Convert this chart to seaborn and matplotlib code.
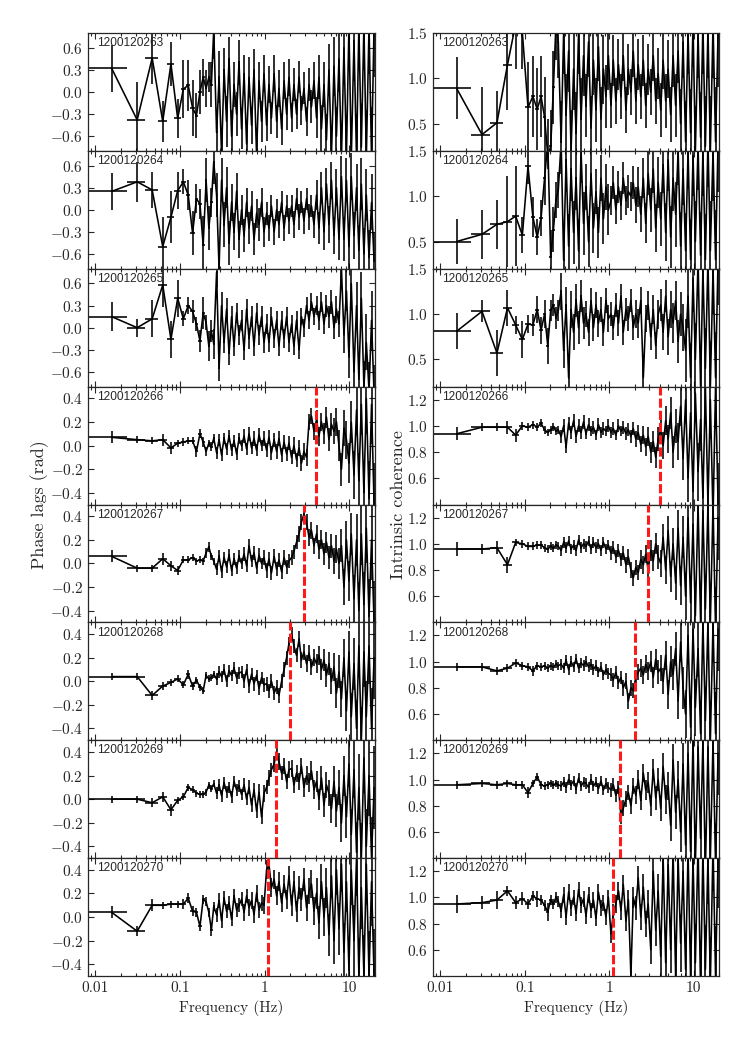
import numpy as np
import matplotlib
matplotlib.use("Agg")
import matplotlib.pyplot as plt
import matplotlib.ticker as mticker
import seaborn as sns

# frequency grid (Hz): first 16 linear bins, then a thinned log grid
freq = [0.0156, 0.0312, 0.0469, 0.0625, 0.0781, 0.0938, 0.1094, 0.125,
        0.1406, 0.1562, 0.1719, 0.1875, 0.2031, 0.2188, 0.2344, 0.25,
        0.27, 0.289, 0.309, 0.331, 0.354, 0.379, 0.406, 0.434, 0.465, 0.497,
        0.532, 0.57, 0.61, 0.652, 0.698, 0.747, 0.8, 0.856, 0.916, 0.98,
        1.05, 1.12, 1.2, 1.29, 1.38, 1.47, 1.58, 1.69, 1.81, 1.93,
        2.07, 2.21, 2.37, 2.54, 2.71, 2.9, 3.11, 3.33, 3.56, 3.81,
        4.08, 4.36, 4.67, 5.0, 5.35, 5.72, 6.13, 6.56, 7.02, 7.51,
        8.04, 8.6, 9.21, 9.85, 10.5, 11.3, 12.1, 12.9, 13.8, 14.8,
        15.8, 17.0, 18.2, 19.5]
half_bin = 0.0078

obs_ids = ['1200120263', '1200120264', '1200120265', '1200120266',
           '1200120267', '1200120268', '1200120269', '1200120270']
qpo_freq = [None, None, None, 4.0, 2.9, 2.0, 1.36, 1.1]

# phase lags, in units of 0.01 rad
lag_263 = [32, -38, 46, -40, 38, -36, 4, 9, -22, -32, 0, 20, 5, 20, 10, 85,
           -55, 20, -85, 30, -40, 45, -60, 10, -30, 40,
           -50, 25, -70, 20, -45, 30, -85, 15, -40, 25,
           -45, 10, -35, 25, -40, 5, -50, 15, -30, 20,
           -35, 10, -30, 20, -25, 5, -40, 10, -20, 15,
           -35, 20, -50, 10, -65, 30, -85, 35, -60, 45,
           -90, 60, -85, 90, -90, 70, -90, 90, -75, 90,
           -90, 90, -90, 90]
lag_263_err = [32, 52, 35, 28, 30, 26, 40, 35, 38, 30, 30, 25, 25, 20, 30, 40,
               30, 35, 35, 30, 35, 30, 35, 30, 30, 30,
               28, 25, 30, 28, 25, 28, 30, 25, 28, 25,
               22, 25, 22, 25, 22, 25, 22, 25, 22, 25,
               20, 22, 20, 22, 20, 22, 20, 22, 22, 25,
               28, 30, 32, 30, 35, 35, 38, 40, 40, 45,
               45, 50, 50, 55, 55, 55, 60, 60, 60, 60,
               65, 65, 70, 70]
lag_264 = [25, 38, 27, -50, -10, 26, 38, 20, -32, 15, 8, -48, 40, -25, 10, 65,
           20, -80, 40, -20, 30, -45, 10, -30, 25, -40,
           0, -35, 10, -25, 5, -40, -5, -20, 10, -30,
           -5, -25, 5, -30, 0, -20, 10, -25, 5, -15,
           5, -20, 15, -10, 10, -15, 15, -10, 5, -20,
           20, -25, 30, -30, 35, -20, 40, -35, 30, -40,
           45, -40, 40, -50, 45, -35, 30, -55, 35, -60,
           20, -65, 10, -70]
lag_264_err = [25, 27, 25, 40, 35, 25, 17, 20, 30, 20, 20, 40, 30, 30, 20, 30,
               30, 35, 30, 30, 28, 30, 25, 25, 25, 25,
               20, 22, 20, 22, 20, 22, 20, 22, 20, 20,
               15, 18, 15, 18, 15, 18, 15, 18, 15, 18,
               15, 18, 15, 18, 15, 18, 15, 18, 15, 18,
               20, 22, 22, 25, 22, 25, 25, 25, 25, 28,
               28, 30, 30, 30, 32, 32, 32, 35, 35, 35,
               35, 38, 38, 40]
lag_265 = [15, 0, 12, 58, -16, 40, 12, 30, 22, 5, -18, 20, 7, -25, -5, -22,
           75, -55, 30, -20, 25, -35, 15, -25, 20, -10,
           10, -30, 25, -15, 15, -25, 20, -10, 15, -20,
           5, -20, 15, -15, 10, -25, 10, -15, 15, -20,
           5, -25, 10, -30, 15, 0, 30, 10, 35, 15,
           30, 10, 35, 5, 30, 15, 35, 0, 25, 5,
           80, -10, 50, -40, 60, -60, 30, -70, 40, -80,
           -20, -85, 10, -90]
lag_265_err = [20, 12, 25, 30, 25, 25, 10, 12, 15, 10, 15, 22, 10, 20, 15, 20,
               20, 18, 18, 15, 15, 15, 15, 14, 14, 14,
               14, 14, 14, 14, 14, 14, 14, 14, 14, 14,
               13, 13, 13, 13, 13, 13, 13, 13, 13, 13,
               12, 12, 12, 12, 12, 12, 12, 12, 12, 12,
               13, 13, 14, 14, 15, 15, 16, 16, 18, 18,
               25, 25, 28, 28, 30, 30, 32, 32, 35, 35,
               38, 38, 40, 40]
lag_266 = [7, 5, 4, 5, -2, 2, 3, 4, 4, -5, 10, 3, -5, 2, -1, 6,
           -6, 5, -8, 6, -3, 8, -4, 4, -7, 6,
           0, 8, -3, 10, -2, 6, -4, 9, 0, 6,
           -4, 7, -6, 5, -5, 6, -8, 3, -7, 2,
           -10, 0, -12, -2, -15, -5, -10, 20, 25, 12,
           22, 8, 20, 10, 24, 5, 18, 12, 20, 0,
           -20, 15, 5, -15, 20, -25, 30, -30, 35, -40,
           40, -45, 35, -50]
lag_266_err = [5, 3, 3, 5, 5, 3, 3, 3, 3, 5, 4, 4, 4, 3, 4, 4,
               5, 5, 5, 5, 5, 5, 5, 5, 5, 5,
               5, 6, 5, 6, 5, 6, 5, 6, 5, 6,
               6, 6, 6, 6, 6, 6, 6, 6, 6, 6,
               6, 7, 6, 7, 7, 7, 7, 7, 7, 7,
               8, 8, 8, 9, 9, 10, 10, 11, 12, 13,
               14, 15, 16, 17, 18, 20, 22, 24, 26, 28,
               30, 32, 34, 35]
lag_267 = [6, -4, -4, 4, -2, -6, 3, 3, 5, 2, 3, 2, 9, 14, 6, 2,
           -5, 6, -7, 5, -3, 7, -6, 4, -4, 6,
           0, 8, -2, 15, 2, 9, -4, 7, 0, 5,
           -6, 4, -8, 6, -5, 3, -7, 5, -3, 2,
           5, 10, 18, 25, 35, 42, 35, 22, 28, 15,
           25, 12, 20, 8, 18, 5, 15, 2, 12, 0,
           15, -20, 20, -15, 25, -30, 20, -40, 25, -35,
           30, -45, 20, -50]
lag_267_err = [5, 3, 3, 5, 4, 4, 3, 3, 3, 3, 3, 3, 4, 4, 3, 3,
               5, 5, 5, 5, 5, 5, 5, 5, 5, 5,
               5, 6, 5, 6, 5, 6, 5, 6, 5, 6,
               6, 6, 6, 6, 6, 6, 6, 6, 6, 6,
               6, 6, 6, 7, 7, 7, 7, 7, 7, 7,
               8, 8, 8, 9, 9, 10, 10, 11, 12, 13,
               14, 15, 16, 17, 18, 20, 22, 24, 26, 28,
               30, 32, 34, 35]
lag_268 = [4, 4, -12, -4, -1, 2, -3, 6, -4, 1, -5, -8, 5, 2, 3, 6,
           2, 8, 4, 10, 0, 9, 5, 11, 3, 7,
           8, 0, 10, -4, 6, -2, 5, -6, 3, -3,
           -2, -8, 0, -10, -5, -12, 0, 10, 20, 32,
           40, 30, 22, 36, 18, 25, 15, 24, 12, 20,
           15, 22, 10, 18, 5, 15, 0, 12, -10, 8,
           -15, 20, -25, 25, -30, 15, -40, 30, -50, 25,
           -30, 30, -40, 20]
lag_268_err = [3, 3, 4, 3, 3, 3, 3, 4, 3, 3, 3, 3, 3, 3, 3, 3,
               5, 5, 5, 5, 5, 5, 5, 5, 5, 5,
               5, 6, 5, 6, 5, 6, 5, 6, 5, 6,
               6, 6, 6, 6, 6, 6, 6, 6, 6, 6,
               6, 6, 6, 7, 7, 7, 7, 7, 7, 7,
               8, 8, 9, 9, 10, 10, 11, 12, 13, 14,
               15, 16, 17, 18, 20, 22, 24, 26, 28, 30,
               30, 32, 34, 35]
lag_269 = [0, 0, -3, 2, -9, -1, 2, 10, 8, 5, 4, 4, 6, 12, 9, 13,
           5, 12, 3, 14, 6, 10, 2, 15, 8, 11,
           4, 12, 0, 10, -5, 8, -10, 6, -15, 5,
           10, 18, 25, 30, 40, 32, 22, 28, 15, 25,
           26, 12, 22, 15, 28, 10, 20, 14, 24, 8,
           15, 0, 18, -5, 12, 5, -8, 15, -10, 10,
           -20, 20, -15, 30, -30, 25, -45, 10, -50, 35,
           -40, 20, -50, 10]
lag_269_err = [3, 3, 4, 4, 5, 3, 3, 3, 3, 3, 3, 3, 3, 3, 3, 3,
               5, 5, 5, 5, 5, 5, 5, 5, 5, 5,
               5, 6, 5, 6, 6, 6, 6, 7, 6, 7,
               6, 7, 6, 7, 6, 7, 6, 7, 6, 7,
               7, 7, 7, 7, 7, 8, 8, 8, 8, 8,
               9, 9, 10, 10, 11, 11, 12, 13, 14, 15,
               16, 17, 18, 20, 22, 24, 26, 28, 30, 30,
               32, 34, 35, 35]
lag_270 = [4, -12, 10, 10, 11, 11, 11, 16, 5, 4, -8, 15, 13, 4, -11, 9,
           2, 14, -3, 16, 5, 12, -2, 18, 6, 10,
           15, 4, 18, 8, 14, 2, 20, 6, 12, 10,
           40, 45, 25, 32, 18, 30, 12, 28, 15, 35,
           10, 30, 5, 25, 15, 32, 8, 22, 28, 5,
           20, -5, 30, 0, 25, -15, 35, -20, 40, -10,
           45, -30, 30, -45, 40, -20, 50, -50, 25, -50,
           45, -50, 30, -50]
lag_270_err = [5, 4, 5, 3, 3, 3, 4, 4, 4, 4, 4, 4, 4, 4, 5, 4,
               6, 6, 6, 6, 6, 6, 6, 6, 6, 6,
               6, 7, 6, 7, 7, 7, 7, 7, 7, 7,
               8, 8, 8, 8, 8, 8, 8, 8, 8, 8,
               9, 9, 9, 10, 10, 10, 11, 11, 12, 12,
               13, 14, 15, 16, 17, 18, 19, 20, 21, 22,
               24, 25, 26, 28, 30, 30, 32, 32, 35, 35,
               35, 38, 38, 40]

# intrinsic coherence, in units of 0.01
coh_263 = [89, 38, 51, 115, 160, 150, 68, 80, 66, 80, 57, 15, 25, 90, 160, 140,
           30, 150, 60, 130, 20, 110, 40, 150, 55, 125,
           70, 140, 45, 120, 65, 135, 55, 110, 80, 125,
           70, 120, 75, 115, 80, 125, 65, 110, 85, 130,
           75, 115, 80, 120, 70, 110, 85, 125, 75, 105,
           65, 120, 75, 110, 60, 125, 70, 130, 50, 140,
           30, 150, 40, 160, 20, 150, 35, 160, 25, 155,
           20, 160, 30, 150]
coh_263_err = [34, 52, 35, 50, 50, 40, 50, 45, 45, 45, 45, 40, 40, 40, 40, 40,
               45, 45, 45, 45, 45, 45, 45, 45, 45, 45,
               35, 38, 35, 38, 35, 38, 35, 38, 35, 38,
               25, 28, 25, 28, 25, 28, 25, 28, 25, 28,
               25, 28, 25, 28, 25, 28, 25, 28, 25, 28,
               30, 32, 30, 32, 30, 35, 35, 35, 38, 40,
               45, 45, 48, 48, 50, 50, 50, 55, 55, 55,
               60, 60, 60, 60]
coh_264 = [50, 58, 69, 72, 78, 57, 133, 77, 55, 76, 120, 160, 33, 63, 96, 107,
           160, 30, 140, 45, 130, 60, 120, 40, 150, 70,
           110, 50, 125, 65, 105, 60, 120, 75, 110, 85,
           95, 115, 85, 110, 90, 120, 95, 105, 100, 115,
           90, 110, 80, 120, 70, 125, 85, 130, 65, 115,
           75, 135, 60, 140, 55, 120, 80, 150, 45, 130,
           40, 150, 30, 145, 50, 155, 35, 150, 30, 160,
           40, 150, 30, 160]
coh_264_err = [25, 27, 27, 50, 55, 20, 20, 22, 20, 20, 30, 30, 30, 25, 20, 20,
               35, 35, 35, 35, 35, 35, 35, 35, 35, 35,
               25, 28, 25, 28, 25, 28, 25, 28, 25, 28,
               16, 18, 16, 18, 16, 18, 16, 18, 16, 18,
               20, 22, 20, 22, 22, 24, 24, 26, 26, 28,
               30, 32, 32, 34, 34, 36, 36, 38, 38, 40,
               42, 42, 45, 45, 45, 48, 48, 50, 50, 50,
               55, 55, 55, 55]
coh_265 = [81, 103, 57, 107, 88, 72, 89, 88, 105, 82, 100, 65, 104, 110, 96, 104,
           125, 60, 110, 30, 105, 80, 115, 85, 120, 90,
           100, 80, 115, 85, 110, 90, 105, 80, 115, 95,
           100, 85, 110, 90, 120, 80, 105, 95, 115, 85,
           100, 90, 115, 30, 95, 110, 75, 105, 65, 100,
           110, 80, 120, 75, 105, 90, 115, 70, 100, 85,
           60, 120, 30, 140, 50, 160, 20, 150, 40, 160,
           20, 150, 30, 160]
coh_265_err = [20, 12, 25, 20, 10, 20, 10, 12, 15, 15, 15, 20, 12, 12, 12, 12,
               20, 20, 20, 20, 20, 20, 18, 18, 18, 18,
               14, 15, 14, 15, 14, 15, 14, 15, 14, 15,
               13, 14, 13, 14, 13, 14, 13, 14, 13, 14,
               15, 16, 15, 16, 15, 16, 15, 16, 15, 16,
               18, 20, 18, 20, 20, 22, 22, 24, 24, 26,
               35, 35, 38, 38, 40, 40, 42, 42, 45, 45,
               50, 50, 50, 50]
coh_266 = [94, 99, 99, 99, 93, 100, 99, 101, 99, 102, 97, 95, 97, 99, 96, 97,
           92, 100, 84, 102, 95, 104, 92, 100, 95, 103,
           94, 101, 96, 99, 93, 101, 95, 98, 96, 100,
           95, 98, 93, 100, 96, 99, 94, 97, 92, 98,
           90, 95, 86, 93, 84, 92, 80, 88, 76, 90,
           98, 85, 104, 90, 110, 80, 100, 88, 115, 75,
           120, 60, 110, 50, 125, 65, 105, 45, 130, 40,
           120, 30, 130, 40]
coh_266_err = [5, 3, 3, 5, 5, 3, 3, 3, 3, 3, 3, 3, 3, 3, 3, 3,
               5, 5, 5, 5, 5, 5, 5, 5, 5, 5,
               4, 5, 4, 5, 4, 5, 4, 5, 4, 5,
               4, 5, 4, 5, 4, 5, 5, 5, 5, 5,
               6, 6, 6, 7, 7, 7, 8, 8, 8, 9,
               10, 10, 11, 11, 12, 12, 13, 14, 15, 16,
               18, 18, 20, 20, 22, 22, 24, 25, 26, 28,
               30, 30, 32, 32]
coh_267 = [96, 96, 97, 84, 101, 100, 98, 98, 99, 99, 97, 96, 98, 97, 99, 98,
           95, 101, 97, 102, 96, 99, 95, 103, 97, 100,
           98, 102, 96, 101, 97, 100, 95, 101, 96, 99,
           93, 97, 90, 95, 88, 93, 84, 90, 80, 74,
           82, 78, 88, 84, 92, 80, 95, 87, 100, 90,
           85, 105, 80, 110, 75, 100, 70, 112, 68, 105,
           60, 120, 55, 115, 45, 130, 40, 125, 50, 130,
           40, 130, 35, 120]
coh_267_err = [5, 4, 5, 6, 3, 3, 3, 3, 3, 3, 3, 3, 3, 3, 3, 3,
               4, 4, 4, 4, 4, 4, 4, 4, 4, 4,
               4, 4, 4, 4, 4, 4, 4, 4, 4, 4,
               5, 5, 5, 5, 5, 5, 6, 6, 6, 6,
               6, 6, 7, 7, 7, 7, 8, 8, 8, 9,
               10, 10, 11, 11, 12, 12, 13, 14, 15, 16,
               18, 18, 20, 20, 22, 22, 24, 25, 26, 28,
               30, 30, 32, 32]
coh_268 = [96, 96, 93, 95, 99, 97, 96, 93, 97, 96, 97, 95, 97, 96, 98, 97,
           98, 95, 101, 94, 100, 96, 102, 95, 99, 97,
           100, 96, 98, 94, 97, 92, 96, 90, 94, 91,
           90, 86, 92, 84, 88, 80, 85, 70, 80, 78,
           88, 92, 95, 90, 98, 93, 100, 88, 102, 92,
           95, 85, 105, 75, 100, 90, 110, 70, 115, 80,
           60, 120, 50, 125, 65, 110, 45, 130, 55, 130,
           40, 130, 45, 125]
coh_268_err = [3, 3, 3, 3, 3, 3, 3, 4, 3, 3, 3, 3, 3, 3, 3, 3,
               4, 4, 4, 4, 4, 4, 4, 4, 4, 4,
               4, 4, 4, 4, 4, 4, 4, 4, 4, 4,
               5, 5, 5, 5, 5, 6, 6, 6, 6, 6,
               6, 6, 7, 7, 7, 7, 8, 8, 8, 9,
               10, 10, 11, 11, 12, 12, 13, 14, 15, 16,
               18, 18, 20, 20, 22, 22, 24, 25, 26, 28,
               30, 30, 32, 32]
coh_269 = [96, 97, 96, 97, 96, 96, 90, 97, 102, 96, 95, 96, 97, 96, 97, 96,
           95, 98, 94, 100, 96, 99, 93, 101, 95, 98,
           97, 94, 100, 95, 98, 93, 99, 92, 97, 94,
           92, 96, 88, 94, 72, 78, 85, 90, 80, 95,
           88, 100, 84, 105, 92, 98, 80, 108, 86, 100,
           78, 110, 85, 95, 65, 115, 75, 100, 60, 112,
           50, 120, 45, 130, 35, 125, 55, 130, 30, 125,
           40, 130, 35, 120]
coh_269_err = [3, 3, 3, 3, 3, 3, 4, 3, 3, 3, 3, 3, 3, 3, 3, 3,
               4, 4, 4, 4, 4, 4, 4, 4, 4, 4,
               4, 4, 4, 4, 4, 4, 4, 4, 4, 4,
               5, 5, 5, 5, 6, 6, 6, 6, 6, 6,
               7, 7, 7, 7, 8, 8, 8, 8, 9, 9,
               10, 10, 11, 11, 12, 12, 13, 14, 15, 16,
               18, 18, 20, 20, 22, 22, 24, 25, 26, 28,
               30, 30, 32, 32]
coh_270 = [95, 96, 98, 105, 96, 99, 95, 101, 99, 98, 94, 89, 98, 95, 100, 97,
           90, 102, 85, 104, 92, 100, 88, 106, 94, 99,
           86, 102, 90, 98, 84, 104, 92, 96, 85, 100,
           72, 88, 95, 105, 90, 110, 82, 98, 40, 100,
           92, 115, 85, 108, 80, 95, 60, 120, 75, 105,
           55, 130, 50, 125, 60, 135, 40, 130, 65, 120,
           45, 135, 40, 130, 50, 140, 30, 135, 45, 130,
           35, 140, 40, 130]
coh_270_err = [7, 5, 7, 4, 5, 5, 4, 4, 6, 4, 4, 7, 4, 4, 4, 4,
               6, 6, 6, 6, 6, 6, 6, 6, 6, 6,
               6, 6, 6, 6, 6, 6, 6, 6, 6, 6,
               7, 7, 7, 7, 7, 7, 8, 8, 8, 8,
               9, 9, 10, 10, 10, 11, 11, 12, 12, 13,
               15, 15, 16, 16, 18, 18, 20, 20, 22, 22,
               24, 25, 26, 28, 30, 30, 32, 32, 34, 35,
               35, 35, 38, 38]

lags = [(lag_263, lag_263_err), (lag_264, lag_264_err), (lag_265, lag_265_err),
        (lag_266, lag_266_err), (lag_267, lag_267_err), (lag_268, lag_268_err),
        (lag_269, lag_269_err), (lag_270, lag_270_err)]
cohs = [(coh_263, coh_263_err), (coh_264, coh_264_err), (coh_265, coh_265_err),
        (coh_266, coh_266_err), (coh_267, coh_267_err), (coh_268, coh_268_err),
        (coh_269, coh_269_err), (coh_270, coh_270_err)]

sns.set_style("ticks")
plt.rcParams['font.family'] = 'serif'
plt.rcParams['font.serif'] = ['cmr10']
plt.rcParams['mathtext.fontset'] = 'cm'
plt.rcParams['axes.formatter.use_mathtext'] = True

fig = plt.figure(figsize=(7.47, 10.37), dpi=100)

top, bottom = 1 - 33 / 1037, 1 - 976 / 1037
ph = (top - bottom) / 8
cols = [(88 / 747, 287 / 747), (433 / 747, 286 / 747)]


def draw_panel(ax, vals, errs, ylim, yticks, i):
    f = np.array(freq)
    y = np.array(vals) / 100.0
    e = np.array(errs) / 100.0
    ax.errorbar(f, y, xerr=half_bin, yerr=e, fmt='none', ecolor='black',
                elinewidth=1.15, capsize=0)
    sns.lineplot(x=f, y=y, ax=ax, color='black', lw=1.15, sort=False,
                 estimator=None)
    if qpo_freq[i] is not None:
        ax.axvline(qpo_freq[i], color='#ff1a1a', lw=2.2, ls=(0, (3, 1)), zorder=5)
    ax.set_xscale('log')
    ax.set_xlim(0.0082, 20)
    ax.set_ylim(*ylim)
    ax.yaxis.set_major_locator(mticker.FixedLocator(yticks))
    ax.xaxis.set_major_locator(mticker.FixedLocator([0.01, 0.1, 1, 10]))
    ax.xaxis.set_minor_locator(mticker.LogLocator(base=10, subs=np.arange(2, 10)))
    ax.xaxis.set_minor_formatter(mticker.NullFormatter())
    ax.tick_params(which='both', direction='in', top=True, right=True,
                   labelsize=11, width=0.8)
    ax.tick_params(which='major', length=4)
    ax.tick_params(which='minor', length=2)
    for s in ax.spines.values():
        s.set_linewidth(0.9)
    ax.set_xlabel('')
    ax.set_ylabel('')
    ax.text(0.031, 0.965, obs_ids[i], transform=ax.transAxes, ha='left', va='top',
            fontsize=8.6, family='Liberation Sans')
    if i == 7:
        ax.xaxis.set_major_formatter(mticker.FixedFormatter(['0.01', '0.1', '1', '10']))
        ax.set_xlabel('Frequency (Hz)', fontsize=11)
    else:
        ax.xaxis.set_major_formatter(mticker.NullFormatter())


for i in range(8):
    b = top - (i + 1) * ph
    axl = fig.add_axes([cols[0][0], b, cols[0][1], ph])
    axr = fig.add_axes([cols[1][0], b, cols[1][1], ph])
    if i < 3:
        draw_panel(axl, lags[i][0], lags[i][1], (-0.8, 0.8), [-0.6, -0.3, 0.0, 0.3, 0.6], i)
        draw_panel(axr, cohs[i][0], cohs[i][1], (0.2, 1.5), [0.5, 1.0, 1.5], i)
    else:
        draw_panel(axl, lags[i][0], lags[i][1], (-0.5, 0.5), [-0.4, -0.2, 0.0, 0.2, 0.4], i)
        draw_panel(axr, cohs[i][0], cohs[i][1], (0.4, 1.3), [0.6, 0.8, 1.0, 1.2], i)

fig.text(40 / 747, 1 - 505 / 1037, 'Phase lags (rad)', rotation=90,
         ha='center', va='center', fontsize=13)
fig.text(398 / 747, 1 - 505 / 1037, 'Intrinsic coherence', rotation=90,
         ha='center', va='center', fontsize=13)

fig.savefig('out.png', dpi=100)
